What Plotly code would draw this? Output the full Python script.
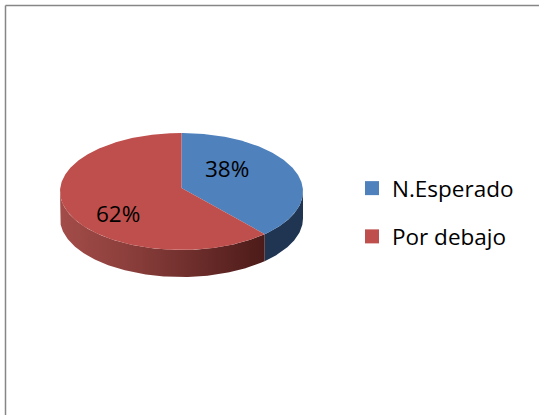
import math
import plotly.graph_objects as go

categories = ["N.Esperado", "Por debajo"]
values = [38, 62]
labels = ["38%", "62%"]
top_colors = ["#4F81BD", "#BE4F4C"]

W, H = 539, 415
CX, CY, RX, RY, DEPTH = 181.5, 191.5, 121.5, 58.5, 27
APEX_Y = 188
FONT = "Open Sans"


def pt(deg, dy=0.0):
    r = math.radians(deg)
    return CX + RX * math.sin(r), CY - RY * math.cos(r) + dy


def arc(a0, a1, dy=0.0):
    n = max(2, int(abs(a1 - a0) * 1.5))
    return [pt(a0 + (a1 - a0) * i / n, dy) for i in range(n + 1)]


def poly(points, **kw):
    return go.Scatter(
        x=[p[0] for p in points], y=[p[1] for p in points],
        mode="lines", line=dict(width=0), fill="toself",
        hoverinfo="skip", showlegend=False, **kw)


total = sum(values)
split = 360 * values[0] / total

fig = go.Figure()
# side walls
fig.add_trace(poly(arc(90, split) + arc(split, 90, DEPTH), fillcolor="#1F3552"))
fig.add_trace(go.Scatter(
    x=[p[0] for p in arc(split, 270) + arc(270, split, DEPTH)],
    y=[p[1] for p in arc(split, 270) + arc(270, split, DEPTH)],
    mode="lines", line=dict(width=0), fill="toself",
    fillgradient=dict(type="horizontal",
                      colorscale=[[0, "#A34C49"], [0.35, "#8A3E3B"], [1, "#4C1B19"]]),
    hoverinfo="skip", showlegend=False))
# top faces
fig.add_trace(poly([(CX, APEX_Y)] + arc(0, split), fillcolor=top_colors[0]))
fig.add_trace(poly([(CX, APEX_Y)] + arc(split, 360), fillcolor=top_colors[1]))

# legend entries
for i, (name, color) in enumerate(zip(categories, top_colors)):
    fig.add_trace(go.Scatter(
        x=[None], y=[None], mode="markers", name=name, legendgroup=name,
        marker=dict(symbol="square", size=14, color=color)))

fig.add_annotation(x=227, y=168, text=labels[0], showarrow=False,
                   font=dict(family=FONT, size=22.5, color="#000"))
fig.add_annotation(x=118, y=213, text=labels[1], showarrow=False,
                   font=dict(family=FONT, size=22.5, color="#000"))

border = dict(color="#868686", width=1.5)
fig.add_shape(type="line", xref="x", yref="y", x0=5.5, x1=5.5, y0=5.5, y1=H, line=border)
fig.add_shape(type="line", xref="x", yref="y", x0=5.5, x1=W, y0=5.5, y1=5.5, line=border)

fig.update_layout(
    width=W, height=H, margin=dict(l=0, r=0, t=0, b=0),
    paper_bgcolor="white", plot_bgcolor="white",
    xaxis=dict(range=[0, W], visible=False, fixedrange=True),
    yaxis=dict(range=[H, 0], visible=False, fixedrange=True),
    legend=dict(x=352 / W, y=1 - 167 / H, xanchor="left", yanchor="top",
                tracegroupgap=16, itemsizing="trace", bgcolor="rgba(0,0,0,0)",
                font=dict(family=FONT, size=22.5, color="#000")),
    font=dict(family=FONT),
)
fig.write_html("out.html", config=dict(displayModeBar=False),
               post_script="document.body.style.margin='0';")
